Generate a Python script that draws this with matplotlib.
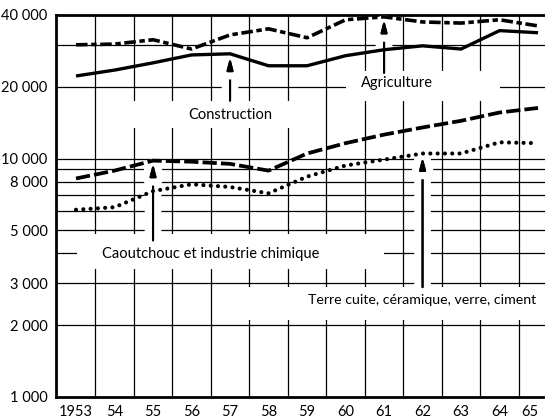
import matplotlib
matplotlib.use("Agg")
import matplotlib.pyplot as plt
import matplotlib.patheffects as pe
from matplotlib.patches import Rectangle

plt.rcParams["font.family"] = ["Lato", "DejaVu Sans"]

# data (log scale)
years = list(range(1953, 1966))
agriculture = [30000, 30200, 31500, 28800, 33000, 35000, 32100, 38200, 39300, 37400, 37000, 38200, 36000]
construction = [22200, 23500, 25200, 27200, 27500, 24500, 24500, 27000, 28600, 29700, 28800, 34400, 33700]
caoutchouc = [8250, 8900, 9800, 9700, 9500, 8900, 10500, 11600, 12600, 13500, 14400, 15600, 16300]
terre_cuite = [6100, 6250, 7300, 7800, 7600, 7150, 8400, 9350, 9900, 10500, 10500, 11700, 11600]

ytick_vals = [1000, 2000, 3000, 5000, 8000, 10000, 20000, 40000]
ytick_labels = ["1 000", "2 000", "3 000", "5 000", "8 000", "10 000", "20 000", "40 000"]
xtick_labels = ["1953", "54", "55", "56", "57", "58", "59", "60", "61", "62", "63", "64", "65"]
grid_y = [2000, 3000, 4000, 5000, 6000, 7000, 8000, 9000, 10000, 20000, 30000]

fig = plt.figure(figsize=(5.45, 4.2), dpi=100)
ax = fig.add_axes([56 / 545, 23 / 420, 1 - 56 / 545, 382 / 420])
ax.set_yscale("log")
ax.set_ylim(1000, 40000)
ax.set_xlim(1952.48, 1965.18)

# grid
for v in grid_y:
    ax.axhline(v, color="black", lw=0.9, zorder=1)
for x in years[:-1]:
    ax.axvline(x + 0.5, color="black", lw=0.9, zorder=1)

# white boxes behind the labels (they break the grid)
boxes = [
    (1954.0, 13400, 4.7, 17500),
    (1960.0, 17500, 4.0, 23400),
    (1953.02, 3430, 7.98, 4810),
    (1957.1, 2100, 8.2, 2890),
]
for x0, y0, w, y1 in boxes:
    ax.add_patch(Rectangle((x0, y0), w, y1 - y0, facecolor="white", edgecolor="none", zorder=2))

# arrows with white halo
arrows = [
    (1961, 22900, 38300),
    (1957, 17500, 26600),
    (1955, 4540, 9550),
    (1962, 2890, 10150),
]
for x, y0, y1 in arrows:
    ax.annotate("", xy=(x, y1), xytext=(x, y0), zorder=3,
                arrowprops=dict(arrowstyle="-|>,head_length=0.7,head_width=0.18",
                                color="black", lw=1.5, shrinkA=0, shrinkB=0,
                                path_effects=[pe.withStroke(linewidth=12, foreground="white"), pe.Normal()]))

# series
ax.plot(years, agriculture, color="black", lw=2.6, dashes=(3.2, 1.0, 1.5, 1.0),
        dash_capstyle="butt", zorder=4)
ax.plot(years, construction, color="black", lw=2.4, solid_capstyle="butt", zorder=4)
ax.plot(years, caoutchouc, color="black", lw=2.7, dashes=(3.8, 1.1),
        dash_capstyle="butt", zorder=4)
ax.plot(years, terre_cuite, color="black", lw=3.0, dashes=(0.001, 1.75),
        dash_capstyle="round", zorder=4)

# labels
lbl = dict(fontsize=10.5, ha="center", va="center", zorder=5)
ax.text(1961.34, 20800, "Agriculture", **lbl)
ax.text(1957.0, 15300, "Construction", **lbl)
ax.text(1956.5, 3960, "Caoutchouc et industrie chimique", **lbl)
ax.text(1964.96, 2550, "Terre cuite, céramique, verre, ciment",
        fontsize=10.2, ha="right", va="center", zorder=5)

# axes
ax.set_yticks(ytick_vals)
ax.set_yticklabels(ytick_labels)
ax.minorticks_off()
ax.set_xticks(years)
ax.set_xticklabels(xtick_labels)
ax.get_xticklabels()[-1].set_horizontalalignment("right")
ax.tick_params(length=0, labelsize=10.5)
ax.tick_params(axis="x", pad=6)
ax.tick_params(axis="y", pad=6)
for s in ["left", "top", "bottom"]:
    ax.spines[s].set_linewidth(2)
ax.spines["right"].set_visible(False)

fig.savefig("out.png", dpi=100)
